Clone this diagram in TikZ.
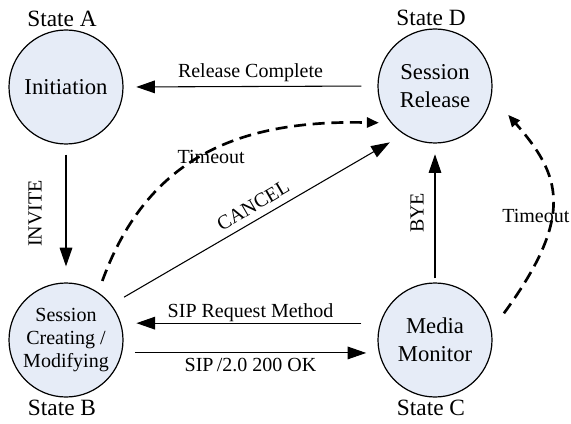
\documentclass[tikz,border=0pt]{standalone}
\usepackage{fontspec}
\setmainfont{Liberation Serif}
\usetikzlibrary{arrows.meta}

\definecolor{statefill}{RGB}{230,236,247}

\begin{document}
\begin{tikzpicture}
  [
    x=0.75pt, y=-0.75pt,
    state/.style={circle,draw,line width=0.9pt,fill=statefill,minimum size=85.5pt,
      inner sep=0pt,align=center,font=\fontsize{17}{21}\selectfont},
    tag/.style={font=\fontsize{17.5}{20}\selectfont,inner sep=2pt,xshift=-3pt},
    msg/.style={font=\fontsize{15}{18}\selectfont},
    link/.style={line width=0.8pt,-{Triangle[length=14pt,width=9.5pt]}},
    timeout/.style={line width=2pt,dash pattern=on 9pt off 5pt,-{Triangle[length=9pt,width=7.5pt]}}
  ]
  \useasboundingbox (0,0) rectangle (571,424);
  % states
  \node[state,label={[tag]above:State A}] (init) at (66,87) {Initiation};
  \node[state,label={[tag]above:State D}] (release) at (435,86) {Session\\Release};
  \node[state,label={[tag]below:State B},font=\fontsize{15}{17.5}\selectfont] (session) at (66,340)
    {Session\\Creating /\\Modifying};
  \node[state,label={[tag]below:State C}] (monitor) at (435,340) {Media\\Monitor};
  % release -> init
  \draw[link,shorten <=12pt,shorten >=9.5pt] (release.west) -- node[msg,above] {Release Complete} (init.east);
  % init -> session
  \draw[link,shorten <=7.5pt,shorten >=12pt] (init.south) -- node[msg,xshift=-23pt,rotate=90] {INVITE} (session.north);
  % session -> release
  \draw[link,shorten <=11pt,shorten >=12pt] (session.38) -- node[msg,pos=0.51,sloped,above=2pt] {CANCEL} (release.237);
  \draw[timeout,shorten <=9pt,shorten >=9pt]
  (session.56) .. controls +(52,-143) and +(-141,-3) .. node[msg,pos=0.5,yshift=-3pt] {Timeout} (release.220);
  % monitor -> release
  \draw[link,shorten <=3pt,shorten >=8pt] (monitor.north) -- node[msg,xshift=-13.5pt,rotate=90] {BYE} (release.south);
  \draw[timeout,shorten <=15.5pt,shorten >=18.75pt]
  (monitor.10) .. controls +(84,-115) and +(69,79) .. node[msg,pos=0.42,xshift=-9.5pt] {Timeout} (release.-10);
  % session <-> monitor
  \draw[link,shorten <=14pt,shorten >=11.5pt] (monitor.163) -- node[msg,above,inner sep=1pt] {SIP Request Method} (session.17);
  \draw[link,shorten <=9.5pt,shorten >=9.5pt] (session.-13) -- node[msg,below] {SIP\,/2.0 200 OK} (monitor.193);
\end{tikzpicture}
\end{document}
